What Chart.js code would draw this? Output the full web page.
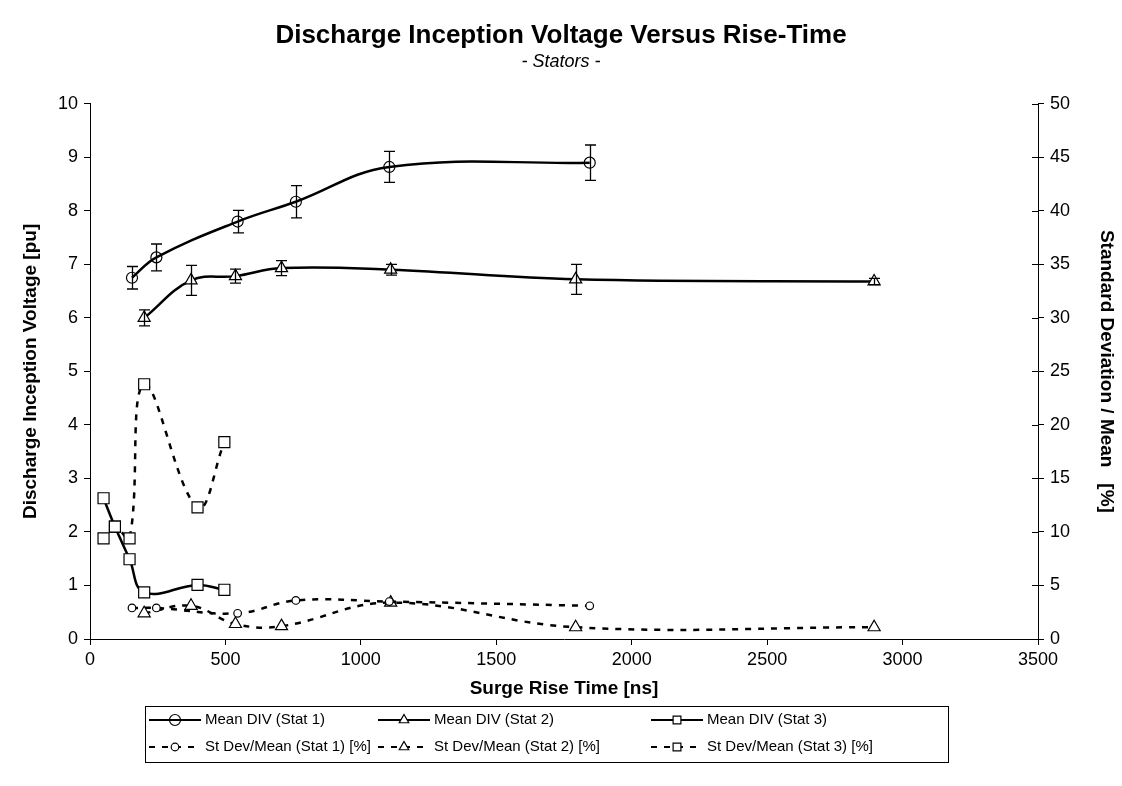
<!DOCTYPE html>
<html>
<head>
<meta charset="utf-8">
<script src="https://cdn.jsdelivr.net/npm/chart.js@4.4.0/dist/chart.umd.min.js"></script>
<style>
  html, body { margin: 0; padding: 0; background: #fff; }
  #wrap { width: 1122px; height: 786px; }
</style>
</head>
<body>
<div id="wrap"><canvas id="grafico" width="1122" height="786"></canvas></div>
<script>
// Rise time (ns), mean DIV (pu), error half-width (pu), st dev / mean (%)
const stat1Rise = [155, 245, 545, 760, 1105, 1845];
const stat1Mean = [6.75, 7.13, 7.80, 8.17, 8.82, 8.90];
const stat1Err  = [0.21, 0.25, 0.21, 0.30, 0.29, 0.33];
const stat1Sd   = [2.9, 2.9, 2.4, 3.6, 3.5, 3.1];

const stat2Rise = [200, 373, 537, 707, 1110, 1793, 2895];
const stat2Mean = [6.00, 6.70, 6.78, 6.93, 6.90, 6.72, 6.68];
const stat2Err  = [0.15, 0.28, 0.13, 0.14, 0.10, 0.28, 0.06];
const stat2Sd   = [2.4, 3.1, 1.4, 1.2, 3.4, 1.1, 1.1];

const stat3Rise = [50, 92, 146, 200, 397, 496];
const stat3Mean = [2.63, 2.10, 1.49, 0.87, 1.01, 0.92];
const stat3Sd   = [9.4, 10.5, 9.4, 23.8, 12.3, 18.4];

const xTicks = [0, 500, 1000, 1500, 2000, 2500, 3000, 3500];

const FONTE = "'Liberation Sans', Arial, sans-serif";
Chart.defaults.font.family = FONTE;
Chart.defaults.color = '#000';

const pontos = (xs, ys) => xs.map((x, i) => ({ x: x, y: ys[i] }));

function serieMedia(label, xs, ys, estilo, raio, fundo, erros) {
  return {
    label: label,
    data: pontos(xs, ys),
    yAxisID: 'y',
    borderColor: '#000',
    borderWidth: 2.5,
    tension: 0.4,
    fill: false,
    pointStyle: estilo,
    pointRadius: raio,
    pointBackgroundColor: fundo,
    pointBorderColor: '#000',
    pointBorderWidth: 1.2,
    errorBars: erros
  };
}

function serieDesvio(label, xs, ys, estilo, raio) {
  return {
    label: label,
    data: pontos(xs, ys),
    yAxisID: 'y1',
    borderColor: '#000',
    borderWidth: 2.5,
    borderDash: [6, 7],
    tension: 0.4,
    fill: false,
    pointStyle: estilo,
    pointRadius: raio,
    pointBackgroundColor: '#fff',
    pointBorderColor: '#000',
    pointBorderWidth: 1.2
  };
}

// vertical error bars with caps on the mean series
const barrasErro = {
  id: 'barrasErro',
  afterDatasetsDraw(chart) {
    const ctx = chart.ctx;
    const sx = chart.scales.x;
    ctx.save();
    ctx.strokeStyle = '#000';
    ctx.lineWidth = 1.3;
    chart.data.datasets.forEach(ds => {
      if (!ds.errorBars) return;
      const sy = chart.scales[ds.yAxisID];
      ds.data.forEach((p, j) => {
        const e = ds.errorBars[j];
        const px = Math.round(sx.getPixelForValue(p.x)) + 0.5;
        const yTop = sy.getPixelForValue(p.y + e);
        const yBot = sy.getPixelForValue(p.y - e);
        ctx.beginPath();
        ctx.moveTo(px, yTop); ctx.lineTo(px, yBot);
        ctx.moveTo(px - 5.5, yTop); ctx.lineTo(px + 5.5, yTop);
        ctx.moveTo(px - 5.5, yBot); ctx.lineTo(px + 5.5, yBot);
        ctx.stroke();
      });
    });
    ctx.restore();
  }
};

// tick marks of the right axis cross into the plot area
const ticksDireita = {
  id: 'ticksDireita',
  afterDraw(chart) {
    const s = chart.scales.y1;
    const ctx = chart.ctx;
    ctx.save();
    ctx.strokeStyle = '#000';
    ctx.lineWidth = 1;
    s.ticks.forEach((t, i) => {
      const py = Math.round(s.getPixelForTick(i)) + 0.5;
      ctx.beginPath();
      ctx.moveTo(s.left - 6, py); ctx.lineTo(s.left, py);
      ctx.stroke();
    });
    ctx.restore();
  }
};

// boxed legend, three columns by two rows, below the x axis title
const legendaCaixa = {
  id: 'legendaCaixa',
  afterDraw(chart) {
    const ctx = chart.ctx;
    const caixa = { x: 145.5, y: 706.5, w: 803, h: 56 };
    const colX = [149, 378, 651];
    const linY = [720, 747];
    ctx.save();
    ctx.strokeStyle = '#000';
    ctx.lineWidth = 1;
    ctx.strokeRect(caixa.x, caixa.y, caixa.w, caixa.h);
    ctx.font = '15px ' + FONTE;
    ctx.fillStyle = '#000';
    ctx.textBaseline = 'middle';
    chart.data.datasets.forEach((ds, i) => {
      const x0 = colX[i % 3];
      const y0 = linY[Math.floor(i / 3)];
      ctx.save();
      ctx.lineWidth = 2;
      ctx.setLineDash(ds.borderDash || []);
      ctx.beginPath();
      ctx.moveTo(x0, y0); ctx.lineTo(x0 + 52, y0);
      ctx.stroke();
      ctx.restore();
      ctx.save();
      ctx.fillStyle = ds.pointBackgroundColor;
      ctx.strokeStyle = '#000';
      ctx.lineWidth = 1.2;
      Chart.helpers.drawPoint(ctx, {
        pointStyle: ds.pointStyle,
        radius: Math.min(ds.pointRadius, 5.5),
        rotation: 0,
        borderWidth: 1.2
      }, x0 + 26, y0);
      ctx.restore();
      ctx.fillText(ds.label, x0 + 56, y0);
    });
    ctx.restore();
  }
};

new Chart(document.getElementById('grafico'), {
  type: 'line',
  data: {
    datasets: [
      serieMedia('Mean DIV (Stat 1)', stat1Rise, stat1Mean, 'circle', 5.5, 'rgba(0,0,0,0)', stat1Err),
      serieMedia('Mean DIV (Stat 2)', stat2Rise, stat2Mean, 'triangle', 7, '#fff', stat2Err),
      serieMedia('Mean DIV (Stat 3)', stat3Rise, stat3Mean, 'rect', 7.8, '#fff', null),
      serieDesvio('St Dev/Mean (Stat 1) [%]', stat1Rise, stat1Sd, 'circle', 3.8),
      serieDesvio('St Dev/Mean (Stat 2) [%]', stat2Rise, stat2Sd, 'triangle', 7),
      serieDesvio('St Dev/Mean (Stat 3) [%]', stat3Rise, stat3Sd, 'rect', 7.8)
    ]
  },
  options: {
    responsive: false,
    animation: false,
    layout: { padding: 0 },
    plugins: {
      legend: { display: false },
      tooltip: { enabled: false },
      title: {
        display: true,
        text: 'Discharge Inception Voltage Versus Rise-Time',
        font: { size: 26, weight: 'bold' },
        color: '#000',
        padding: { top: 20, bottom: 0 }
      },
      subtitle: {
        display: true,
        text: '- Stators -',
        font: { size: 18, style: 'italic' },
        color: '#000',
        padding: { top: 0, bottom: 31 }
      }
    },
    scales: {
      x: {
        type: 'linear',
        position: 'bottom',
        min: 0,
        max: 3500,
        afterBuildTicks: s => { s.ticks = xTicks.map(v => ({ value: v })); },
        ticks: { font: { size: 18 }, color: '#000', padding: 4, maxRotation: 0, callback: v => String(v) },
        grid: { drawOnChartArea: false, tickLength: 6, color: '#000' },
        border: { color: '#000', width: 1 },
        title: {
          display: true,
          text: 'Surge Rise Time [ns]',
          font: { size: 19, weight: 'bold' },
          color: '#000',
          padding: { top: 0, bottom: 86 }
        },
        afterFit: s => { s.height = 147; }
      },
      y: {
        position: 'left',
        min: 0,
        max: 10,
        ticks: { stepSize: 1, font: { size: 18 }, color: '#000', padding: 6 },
        grid: { drawOnChartArea: false, tickLength: 6, color: '#000' },
        border: { color: '#000', width: 1 },
        title: {
          display: true,
          text: 'Discharge Inception Voltage [pu]',
          font: { size: 19, weight: 'bold' },
          color: '#000',
          padding: { top: 19, bottom: 0 }
        },
        afterFit: s => { s.width = 90; }
      },
      y1: {
        position: 'right',
        min: 0,
        max: 50,
        ticks: { stepSize: 5, font: { size: 18 }, color: '#000', padding: 6 },
        grid: { drawOnChartArea: false, tickLength: 6, color: '#000' },
        border: { color: '#000', width: 1 },
        title: {
          display: true,
          text: 'Standard Deviation / Mean   [%]',
          font: { size: 19, weight: 'bold' },
          color: '#000',
          padding: { top: 4, bottom: 0 }
        },
        afterFit: s => { s.width = 84; }
      }
    }
  },
  plugins: [barrasErro, ticksDireita, legendaCaixa]
});
</script>
</body>
</html>
